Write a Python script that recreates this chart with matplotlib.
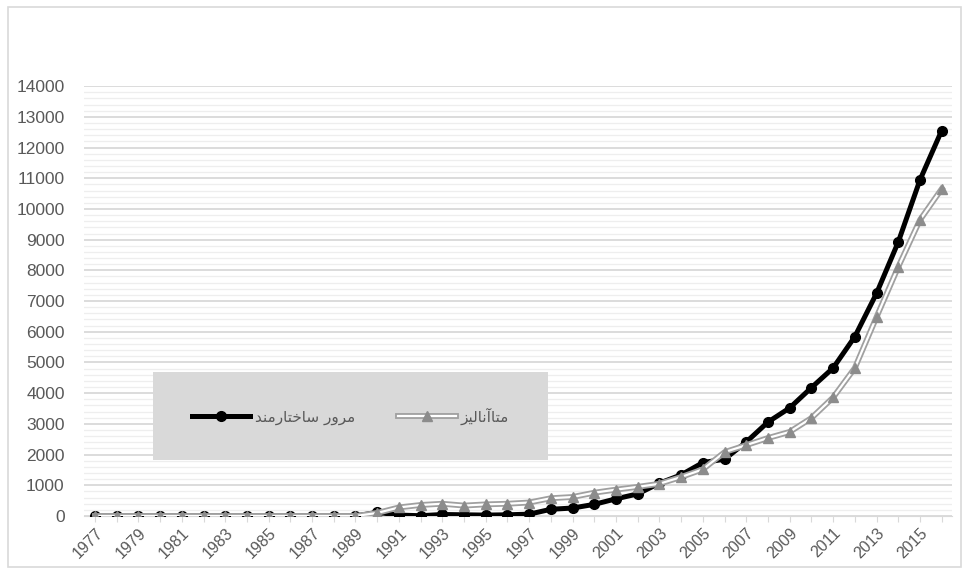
import numpy as np
import matplotlib.pyplot as plt
from matplotlib.patches import Rectangle
from matplotlib.ticker import MultipleLocator

plt.rcParams['font.family'] = ['Liberation Sans', 'DejaVu Sans']

years = list(range(1977, 2017))
# مرور ساختارمند (systematic reviews)
systematic = [0, 0, 0, 0, 0, 0, 0, 0, 0, 0, 0, 0, 0, 120,
              30, 10, 50, 40, 30, 40, 60, 220, 260, 380, 560, 720,
              1070, 1340, 1740, 1850, 2410, 3060, 3520, 4180, 4820, 5840,
              7250, 8920, 10940, 12550]
# متاآنالیز (meta-analyses)
meta = [0, 0, 0, 0, 0, 0, 0, 0, 0, 0, 0, 0, 0, 100,
        280, 360, 400, 340, 380, 400, 440, 580, 620, 760, 860, 950,
        1050, 1270, 1520, 2080, 2310, 2540, 2740, 3190, 3860, 4820,
        6480, 8110, 9640, 10650]
# persian labels, pre-shaped (presentation forms in visual order)
label_sys = '\ufeaa\ufee8\ufee3\ufead\ufe8e\ufe98\ufea7\ufe8e\ufeb3 \ufead\ufeed\ufeae\ufee3'
label_meta = '\ufeb0\ufef4\ufedf\ufe8e\ufee7\ufe81\ufe8e\ufe98\ufee3'

fig = plt.figure(figsize=(9.67, 5.74), dpi=100)
fig.patches.append(Rectangle((0.008, 0.012), 0.986, 0.975, transform=fig.transFigure,
                             fill=False, edgecolor='#d9d9d9', lw=1.2))
ax = fig.add_axes([0.087, 0.101, 0.898, 0.749])

l1, = ax.plot(years, systematic, color='black', lw=3.6, marker='o', ms=7,
              mfc='black', mec='black', zorder=3)
g_out, = ax.plot(years, meta, color='#a0a0a0', lw=4.2, zorder=4)
g_in, = ax.plot(years, meta, color='white', lw=1.6, marker='^', ms=6.5,
                mfc='#8c8c8c', mec='#8c8c8c', zorder=5)

ax.set_xlim(1976.5, 2016.5)
ax.set_ylim(0, 14000)
ax.yaxis.set_major_locator(MultipleLocator(1000))
ax.yaxis.set_minor_locator(MultipleLocator(200))
ax.grid(axis='y', which='major', color='#d9d9d9', lw=1.3)
ax.grid(axis='y', which='minor', color='#eeeeee', lw=0.9)
ax.set_axisbelow(True)

ax.set_xticks(years)
ax.set_xticklabels([str(y) if (y - 1977) % 2 == 0 else '' for y in years],
                   rotation=45, ha='right', rotation_mode='anchor')
ax.tick_params(axis='x', length=4, color='#d9d9d9', labelsize=11.5,
               labelcolor='#595959', pad=3)
ax.tick_params(axis='y', which='both', length=0, labelsize=12.5,
               labelcolor='#595959', pad=14)

for s in ['top', 'right', 'left']:
    ax.spines[s].set_visible(False)
ax.spines['bottom'].set_color('#d9d9d9')

ax.add_patch(Rectangle((0.0795, 0.13), 0.455, 0.205, transform=ax.transAxes,
                       facecolor='#d9d9d9', edgecolor='none', zorder=6))
leg = ax.legend([l1, (g_out, g_in)], [label_sys, label_meta], ncol=2,
                loc='center', bbox_to_anchor=(0.307, 0.2325), frameon=False,
                handlelength=3.8, columnspacing=2.8, handletextpad=0.3,
                prop={'family': ['DejaVu Sans'], 'size': 11})
leg.set_zorder(7)
for t in leg.get_texts():
    t.set_color('#595959')

plt.savefig('out.png', dpi=100)
